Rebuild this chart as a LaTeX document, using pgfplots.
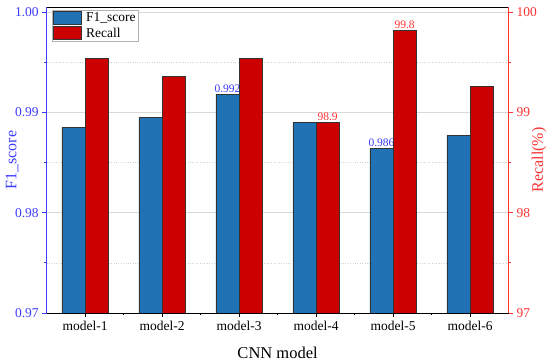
\documentclass[border=0pt]{standalone}
\usepackage{fontspec}
\setmainfont{Liberation Serif}
\usepackage{pgfplots}
\pgfplotsset{compat=1.18}
\definecolor{barblue}{RGB}{33,113,181}
\definecolor{barred}{RGB}{204,0,0}
\definecolor{axblue}{RGB}{60,60,255}
\definecolor{axred}{RGB}{255,50,50}
\begin{document}
\begin{tikzpicture}
\useasboundingbox (0,0) rectangle (550bp,363bp);
\pgfplotsset{
  common/.style={
    at={(46.6bp,50bp)}, anchor=south west,
    scale only axis, width=462bp, height=306bp,
    xmin=-0.5, xmax=5.5,
    ybar, bar width=0.3,
    tick align=outside,
    major tick length=4.4bp, minor tick length=2.4bp,
    /pgf/number format/assume math mode=true,
    ticklabel style={font=\fontsize{13.5bp}{16bp}\selectfont},
  }
}
\begin{axis}[common,
  ymin=0.97, ymax=1.0005,
  axis x line*=box, axis y line*=left,
  xtick pos=bottom,
  xtick={0,1,2,3,4,5},
  xticklabels={model-1,model-2,model-3,model-4,model-5,model-6},
  minor xtick={0.5,1.5,2.5,3.5,4.5},
  x axis line style={black, line width=0.9bp},
  xtick style={black, line width=0.8bp},
  ytick={0.97,0.98,0.99,1.00},
  minor ytick={0.975,0.985,0.995},
  y axis line style={axblue, line width=0.9bp},
  ytick style={axblue, line width=0.8bp},
  yticklabel style={text=axblue, /pgf/number format/.cd, fixed, fixed zerofill, precision=2},
  ymajorgrids, yminorgrids,
  major grid style={gray!30, line width=0.7bp},
  minor grid style={gray!35, dotted, line width=0.6bp},
  ylabel={F1\_score},
  every axis y label/.style={at={(axis description cs:-0.0745,0.5)}, anchor=center, rotate=90, text=axblue, font=\fontsize{16bp}{18bp}\selectfont},
  xlabel={CNN model},
  every axis x label/.style={at={(axis description cs:0.5,-0.1288)}, anchor=center, font=\fontsize{16.5bp}{18bp}\selectfont},
]
\addplot[bar shift=-0.15, fill=barblue, draw=black!80, line width=0.7bp,
  nodes near coords, point meta=explicit symbolic,
  nodes near coords style={text=axblue, font=\fontsize{11.5bp}{12bp}\selectfont, inner sep=1.5bp}]
  coordinates {(0,0.9885) [] (1,0.9895) [] (2,0.9918) [0.992] (3,0.9890) [] (4,0.9864) [0.986] (5,0.9877) []};
\end{axis}
\begin{axis}[common,
  ymin=97, ymax=100.05,
  axis x line=none, axis y line*=right,
  ytick={97,98,99,100},
  minor ytick={97.5,98.5,99.5},
  y axis line style={axred, line width=0.9bp},
  ytick style={axred, line width=0.8bp},
  yticklabel style={text=axred},
  ylabel={Recall(\%)},
  every axis y label/.style={at={(axis description cs:1.0658,0.5)}, anchor=center, rotate=90, text=axred, font=\fontsize{16bp}{18bp}\selectfont},
  legend image code/.code={\draw[#1] (0bp,-6.5bp) rectangle (28bp,6.5bp); \path (31bp,0bp);},
  legend cell align=left,
  legend style={at={(axis description cs:0.0117,0.990)}, anchor=north west, draw=gray!60, fill=white,
    font=\fontsize{13.5bp}{15bp}\selectfont, inner sep=1bp, row sep=1.5bp,
    nodes={inner sep=1.2bp}},
]
\addlegendimage{fill=barblue, draw=black!80, line width=0.7bp}
\addlegendentry{F1\_score}
\addplot[bar shift=0.15, fill=barred, draw=black!80, line width=0.7bp,
  nodes near coords, point meta=explicit symbolic,
  nodes near coords style={text=axred, font=\fontsize{11.5bp}{12bp}\selectfont, inner sep=1.5bp}]
  coordinates {(0,99.54) [] (1,99.36) [] (2,99.54) [] (3,98.90) [98.9] (4,99.82) [99.8] (5,99.26) []};
\addlegendentry{Recall}
\end{axis}
\end{tikzpicture}
\end{document}
